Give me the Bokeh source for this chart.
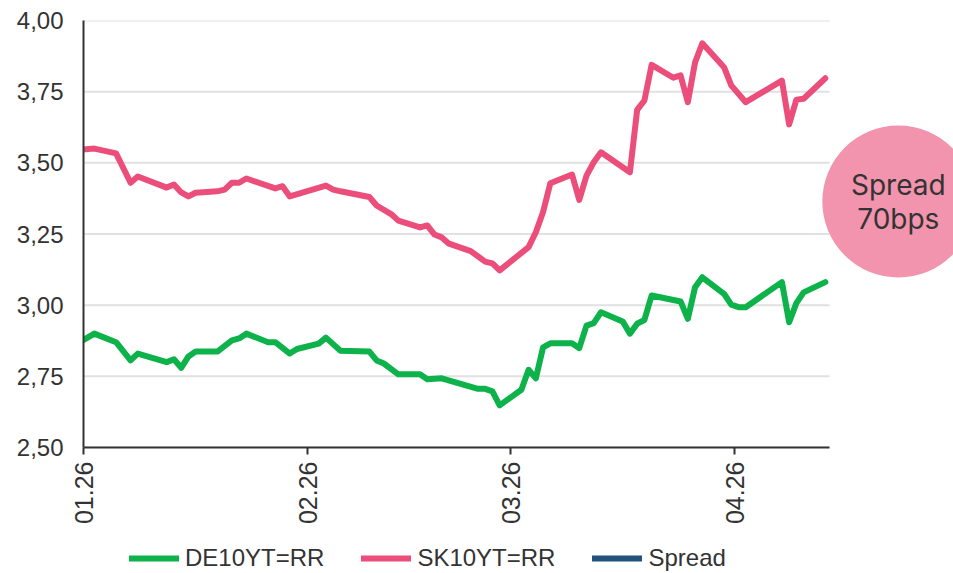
import math
import pandas as pd
from bokeh.plotting import figure
from bokeh.layouts import column
from bokeh.models import Range1d, FixedTicker, Legend, LegendItem, ColumnDataSource
from bokeh.core.properties import value
from bokeh.embed import file_html
from bokeh.resources import INLINE

# ---------------- data ----------------
de_dates = ["2025-12-31", "2026-01-02", "2026-01-05", "2026-01-07", "2026-01-08", "2026-01-12",
            "2026-01-13", "2026-01-14", "2026-01-15", "2026-01-16", "2026-01-19", "2026-01-21",
            "2026-01-22", "2026-01-23", "2026-01-26", "2026-01-27", "2026-01-29", "2026-01-30",
            "2026-02-02", "2026-02-03", "2026-02-05", "2026-02-09", "2026-02-10", "2026-02-11",
            "2026-02-13", "2026-02-16", "2026-02-17", "2026-02-19", "2026-02-24", "2026-02-25",
            "2026-02-26", "2026-02-27", "2026-03-02", "2026-03-03", "2026-03-04", "2026-03-05",
            "2026-03-06", "2026-03-09", "2026-03-10", "2026-03-11", "2026-03-12", "2026-03-13",
            "2026-03-16", "2026-03-17", "2026-03-18", "2026-03-19", "2026-03-20", "2026-03-24",
            "2026-03-25", "2026-03-26", "2026-03-27", "2026-03-30", "2026-03-31", "2026-04-01",
            "2026-04-02", "2026-04-07", "2026-04-08", "2026-04-09", "2026-04-10", "2026-04-13"]
de_values = [2.870, 2.900, 2.870, 2.806, 2.830, 2.800,
             2.810, 2.780, 2.820, 2.837, 2.837, 2.876,
             2.883, 2.900, 2.870, 2.870, 2.830, 2.846,
             2.865, 2.886, 2.840, 2.837, 2.806, 2.795,
             2.757, 2.757, 2.740, 2.743, 2.706, 2.706,
             2.697, 2.648, 2.703, 2.773, 2.743, 2.852,
             2.866, 2.866, 2.849, 2.928, 2.937, 2.975,
             2.943, 2.900, 2.935, 2.948, 3.034, 3.013,
             2.952, 3.063, 3.098, 3.040, 3.002, 2.993,
             2.993, 3.081, 2.940, 3.007, 3.045, 3.081]

sk_dates = ["2025-12-31", "2026-01-02", "2026-01-05", "2026-01-07", "2026-01-08", "2026-01-12",
            "2026-01-13", "2026-01-14", "2026-01-15", "2026-01-16", "2026-01-19", "2026-01-20",
            "2026-01-21", "2026-01-22", "2026-01-23", "2026-01-27", "2026-01-28", "2026-01-29",
            "2026-02-03", "2026-02-04", "2026-02-05", "2026-02-09", "2026-02-10", "2026-02-12",
            "2026-02-13", "2026-02-16", "2026-02-17", "2026-02-18", "2026-02-19", "2026-02-20",
            "2026-02-23", "2026-02-25", "2026-02-26", "2026-02-27", "2026-03-03", "2026-03-04",
            "2026-03-05", "2026-03-06", "2026-03-09", "2026-03-10", "2026-03-11", "2026-03-12",
            "2026-03-13", "2026-03-17", "2026-03-18", "2026-03-19", "2026-03-20", "2026-03-23",
            "2026-03-24", "2026-03-25", "2026-03-26", "2026-03-27", "2026-03-30", "2026-03-31",
            "2026-04-02", "2026-04-07", "2026-04-08", "2026-04-09", "2026-04-10", "2026-04-13"]
sk_values = [3.546, 3.550, 3.533, 3.430, 3.452, 3.413,
             3.424, 3.396, 3.382, 3.395, 3.400, 3.406,
             3.430, 3.430, 3.445, 3.410, 3.418, 3.382,
             3.420, 3.406, 3.400, 3.380, 3.350, 3.320,
             3.297, 3.273, 3.280, 3.248, 3.238, 3.216,
             3.190, 3.153, 3.147, 3.122, 3.204, 3.256,
             3.327, 3.428, 3.459, 3.370, 3.455, 3.502,
             3.537, 3.467, 3.686, 3.719, 3.844, 3.799,
             3.807, 3.713, 3.853, 3.920, 3.836, 3.772,
             3.713, 3.789, 3.635, 3.722, 3.725, 3.797]

series_names = ["DE10YT=RR", "SK10YT=RR", "Spread"]
y_ticks = [2.50, 2.75, 3.00, 3.25, 3.50, 3.75, 4.00]
y_tick_labels = ["2,50", "2,75", "3,00", "3,25", "3,50", "3,75", "4,00"]
x_tick_dates = ["2026-01-01", "2026-02-01", "2026-03-01", "2026-04-01"]
x_tick_labels = ["01.26", "02.26", "03.26", "04.26"]
spread_text = "Spread\n70bps"

# ---------------- style ----------------
GREEN = "#0db24a"
PINK = "#ec4e7c"
BLUE = "#24517b"
BUBBLE = "#f294ad"
TEXT = "#333333"
GRID = "#e1e1e1"
FONT = "Liberation Sans"
COLORS = [GREEN, PINK, BLUE]

x_start = pd.Timestamp("2026-01-01")
x_axis_end = pd.Timestamp("2026-04-14 02:00")
x_frame_end = pd.Timestamp("2026-05-01 05:00")
half_day = pd.Timedelta(hours=12)

# ---------------- main chart ----------------
p = figure(width=953, height=527, x_axis_type="datetime",
           x_range=Range1d(x_start, x_frame_end), y_range=Range1d(2.5, 4.0),
           min_border_left=83, min_border_right=0, min_border_top=20, min_border_bottom=80,
           output_backend="svg", toolbar_location=None)
p.outline_line_color = None
p.xgrid.visible = False
p.ygrid.visible = False

# horizontal grid lines limited to the axis span
grid_src = ColumnDataSource(dict(x0=[x_start] * len(y_ticks), x1=[x_axis_end] * len(y_ticks),
                                 y=y_ticks))
p.segment(x0="x0", x1="x1", y0="y", y1="y", source=grid_src, line_color=GRID, line_width=2)

de_src = ColumnDataSource(dict(x=pd.to_datetime(de_dates) + half_day, y=de_values))
sk_src = ColumnDataSource(dict(x=pd.to_datetime(sk_dates) + half_day, y=sk_values))

p.line("x", "y", source=de_src, line_color=GREEN, line_width=6,
       line_join="round", line_cap="round")
p.line("x", "y", source=sk_src, line_color=PINK, line_width=6,
       line_join="round", line_cap="round")

# spread bubble
bubble_x = pd.Timestamp("2026-04-23 14:00")
bubble_y = 3.364
p.circle(x=[bubble_x], y=[bubble_y], radius=76, radius_units="screen",
         fill_color=BUBBLE, line_color=None)
p.text(x=[bubble_x], y=[bubble_y], text=[spread_text], text_font=value("Inter"),
       text_font_size="28px", text_color=TEXT, text_align="center",
       text_baseline="middle", text_line_height=1.0)

# axes
xa = p.xaxis[0]
tick_ms = [pd.Timestamp(d).value // 10**6 for d in x_tick_dates]
xa.ticker = FixedTicker(ticks=tick_ms)
xa.major_label_overrides = {t: l for t, l in zip(tick_ms, x_tick_labels)}
xa.bounds = (x_start, x_axis_end)
xa.major_label_orientation = math.pi / 2
xa.axis_line_color = TEXT
xa.axis_line_width = 2
xa.major_tick_line_color = TEXT
xa.major_tick_line_width = 2
xa.major_tick_out = 7
xa.major_tick_in = 0
xa.minor_tick_out = 0
xa.minor_tick_in = 0
xa.major_label_standoff = 7
xa.major_label_text_font = FONT
xa.major_label_text_font_size = "25px"
xa.major_label_text_color = TEXT

ya = p.yaxis[0]
ya.ticker = FixedTicker(ticks=y_ticks)
ya.major_label_overrides = {t: l for t, l in zip(y_ticks, y_tick_labels)}
ya.axis_line_color = TEXT
ya.axis_line_width = 2
ya.major_tick_out = 0
ya.major_tick_in = 0
ya.minor_tick_out = 0
ya.minor_tick_in = 0
ya.major_label_standoff = 20
ya.major_label_text_font = FONT
ya.major_label_text_font_size = "24px"
ya.major_label_text_color = TEXT

# ---------------- legend strip ----------------
lg = figure(width=953, height=46, x_range=Range1d(0, 1), y_range=Range1d(0, 1),
            x_axis_location=None, y_axis_location=None, min_border=0,
            output_backend="svg", toolbar_location=None)
lg.outline_line_color = None
lg.xgrid.visible = False
lg.ygrid.visible = False
items = []
for name, col in zip(series_names, COLORS):
    r = lg.line(x=[float("nan")], y=[float("nan")], line_color=col, line_width=6,
                line_cap="round")
    items.append(LegendItem(label=name, renderers=[r]))
legend = Legend(items=items, orientation="horizontal", location=(46, 1), padding=0, margin=0,
                spacing=37, glyph_width=50, glyph_height=20, label_standoff=6,
                label_text_font=FONT, label_text_font_size="24px", label_text_color=TEXT,
                border_line_color=None, background_fill_alpha=0)
lg.add_layout(legend)

layout = column(p, lg, spacing=0)
open("out.html", "w").write(file_html(layout, INLINE))
